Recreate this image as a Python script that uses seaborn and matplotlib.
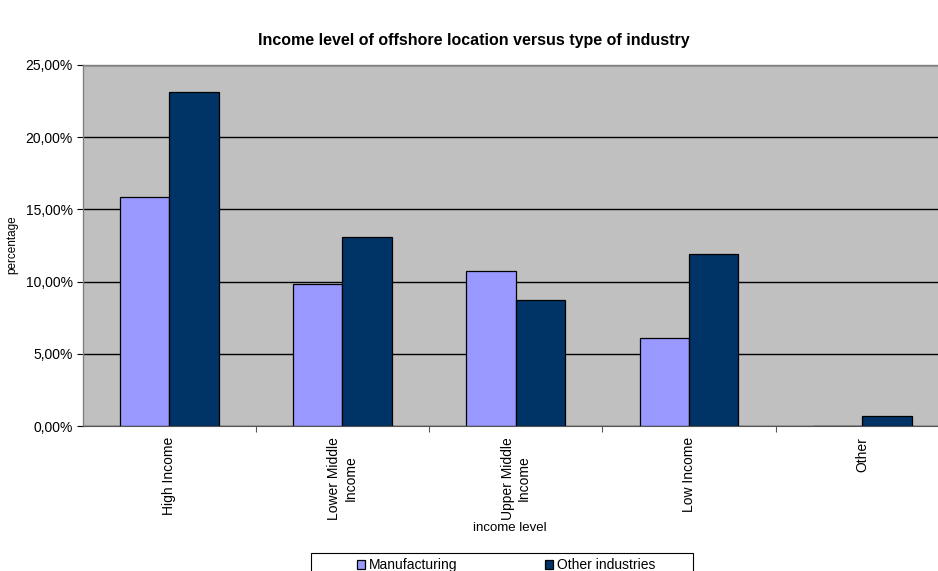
import matplotlib
matplotlib.use("Agg")
import matplotlib.pyplot as plt
import matplotlib.ticker as mticker
from matplotlib.patches import Rectangle
import seaborn as sns
import pandas as pd

categories = ["High Income", "Lower Middle\nIncome", "Upper Middle\nIncome", "Low Income", "Other"]
series_names = ["Manufacturing", "Other industries"]
manufacturing = [15.83, 9.86, 10.74, 6.11, 0.0]
other_industries = [23.15, 13.08, 8.70, 11.94, 0.69]
y_ticks = [0, 5, 10, 15, 20, 25]

df = pd.DataFrame({
    "category": categories * 2,
    "series": [series_names[0]] * len(categories) + [series_names[1]] * len(categories),
    "value": manufacturing + other_industries,
})

sns.set_style("white")
plt.rcParams["font.family"] = ["Liberation Sans", "DejaVu Sans"]
plt.rcParams["text.color"] = "black"
plt.rcParams["xtick.color"] = "black"
plt.rcParams["ytick.color"] = "black"
plt.rcParams["axes.labelcolor"] = "black"

W, H = 938, 571
fig = plt.figure(figsize=(W / 100, H / 100), dpi=100)
# plot area runs slightly past the right edge of the image, as in the reference
ax = fig.add_axes([82.5 / W, 1 - 426 / H, (949 - 82.5) / W, (426 - 65) / H])
ax.set_facecolor("#C0C0C0")

sns.barplot(data=df, x="category", y="value", hue="series", order=categories,
            hue_order=series_names, palette=["#9999FF", "#003366"],
            width=0.57, edgecolor="black", linewidth=0.9, saturation=1,
            ax=ax, legend=True)

ax.set_ylim(0, 25)
ax.set_xlim(-0.5, len(categories) - 0.5)
ax.set_yticks(y_ticks)
ax.yaxis.set_major_formatter(mticker.FuncFormatter(lambda v, p: f"{v:.2f}%".replace(".", ",")))
ax.yaxis.grid(True, color="black", linewidth=1.0)
ax.set_axisbelow(True)
ax.tick_params(axis="y", direction="out", length=4, width=0.8, color="black",
               labelsize=10, pad=3, left=True)

ax.set_xticks(range(len(categories)))
ax.set_xticklabels(categories, rotation=90, ha="center", va="top",
                   multialignment="center", fontsize=10)
ax.tick_params(axis="x", which="major", length=0, pad=8)
ax.set_xticks([i + 0.5 for i in range(len(categories) - 1)], minor=True)
ax.tick_params(axis="x", which="minor", direction="out", length=4, width=0.8,
               color="#555555", bottom=True)

for side in ["top", "right", "left"]:
    ax.spines[side].set_color("#808080")
    ax.spines[side].set_linewidth(1.0)
ax.spines["bottom"].set_color("#555555")

ax.set_xlabel("")
ax.set_ylabel("")
fig.text(510 / W, 1 - 528 / H, "income level", ha="center", va="center", fontsize=9.5)
fig.text(12 / W, 1 - 245 / H, "percentage", rotation=90, ha="center", va="center", fontsize=8.5)
fig.text(474 / W, 1 - 40 / H, "Income level of offshore location versus type of industry",
         ha="center", va="center", fontsize=11.5, fontweight="bold")

handles, labels = ax.get_legend_handles_labels()
ax.get_legend().remove()
# legend frame (box partly cut off by the bottom edge, as in the reference)
fig.patches.append(Rectangle((310.5 / W, -0.02), (693 - 310.5) / W, 0.02 + 18.5 / H,
                             transform=fig.transFigure, facecolor="white",
                             edgecolor="black", linewidth=0.8, zorder=1))
leg = fig.legend(handles, labels, loc="center left",
                 bbox_to_anchor=(357 / W, 1 - 565 / H),
                 ncol=2, fontsize=10, frameon=False,
                 handlelength=0.6, handleheight=0.6, handletextpad=0.25,
                 borderpad=0, borderaxespad=0, columnspacing=6.3)
leg.set_zorder(2)

fig.savefig("out.png", dpi=100, facecolor="white")
